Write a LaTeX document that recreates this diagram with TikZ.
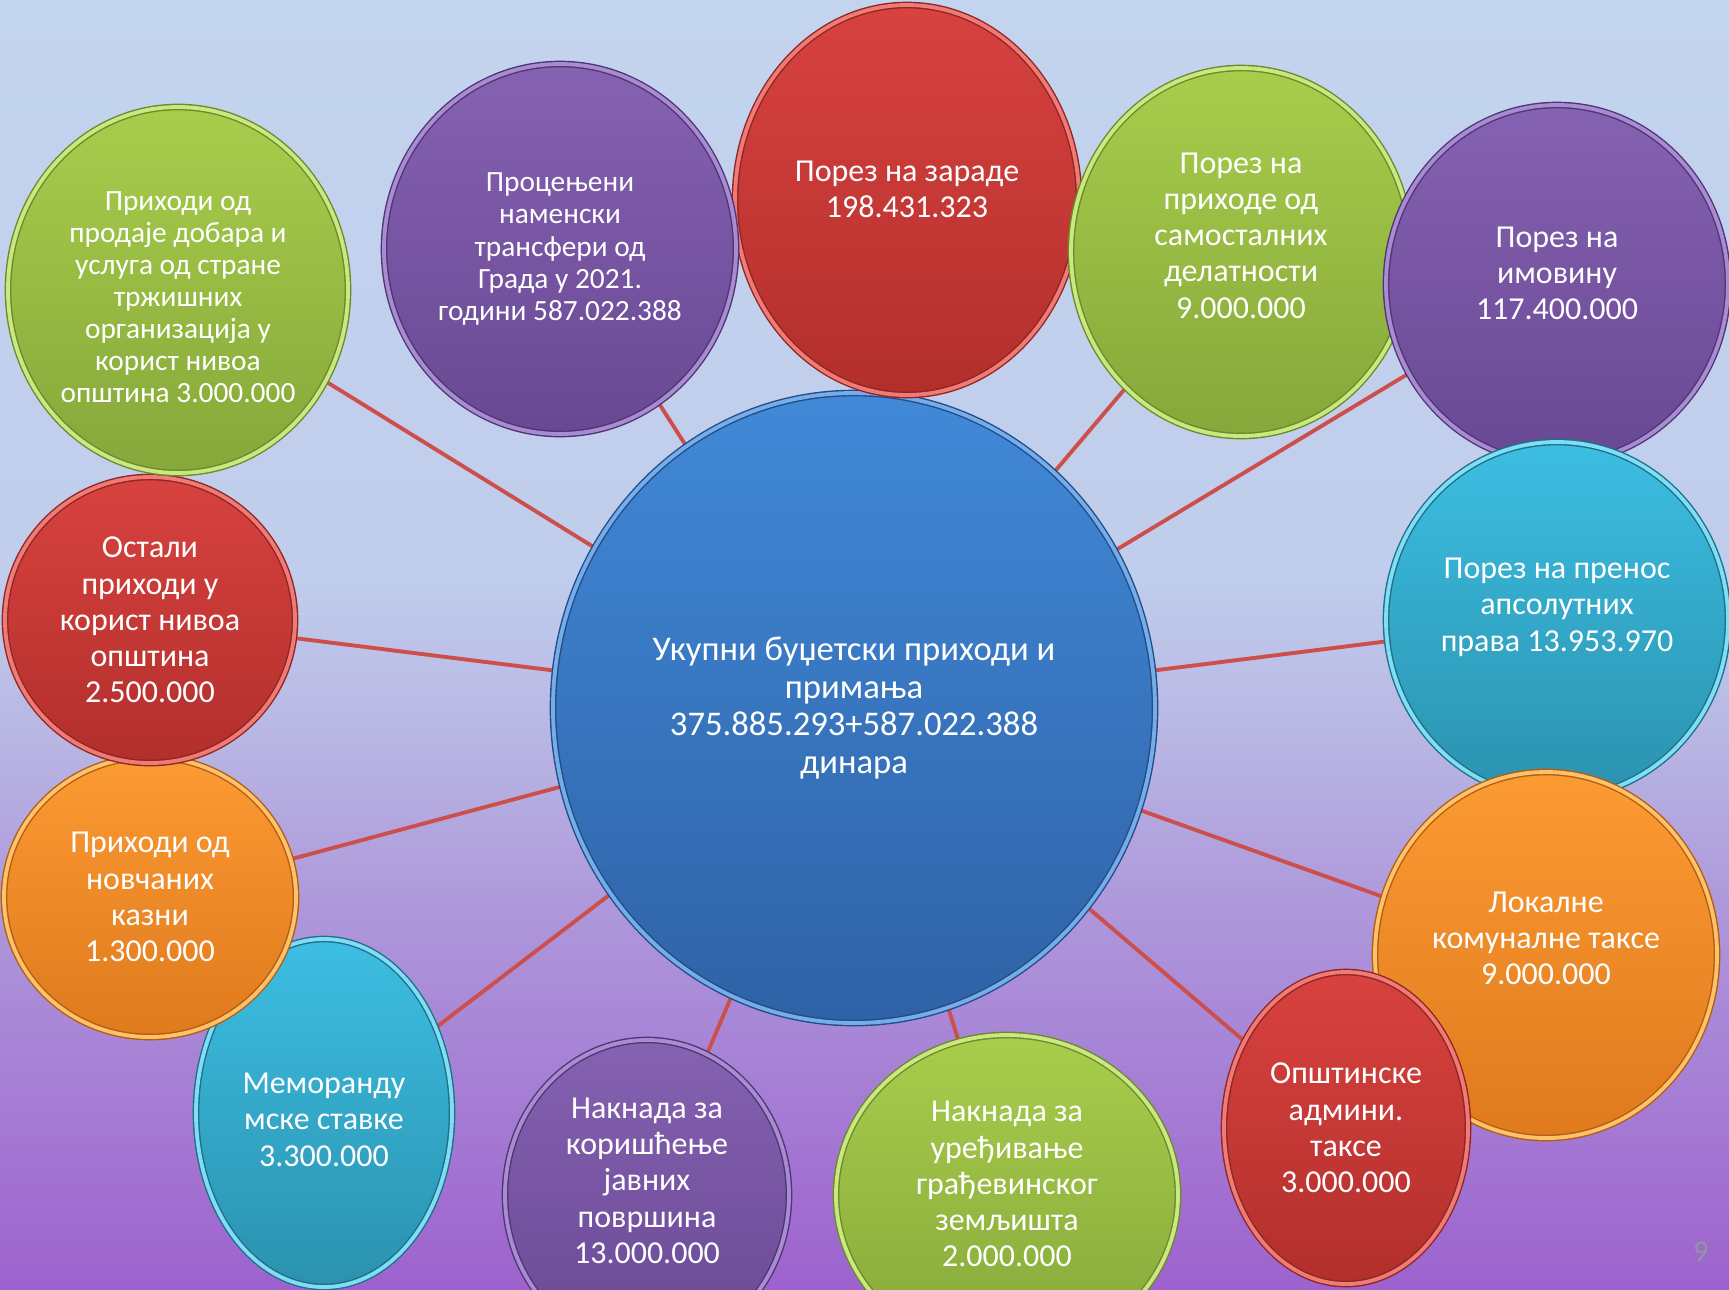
\documentclass[tikz,border=0pt]{standalone}
\usepackage{fontspec}
\setmainfont{Carlito}
\usetikzlibrary{shapes.geometric}
\pgfdeclarelayer{bg}
\pgfdeclarelayer{links}
\pgfsetlayers{bg,links,main}
\definecolor{bgtop}{HTML}{C3D4EE}
\definecolor{bgupper}{HTML}{C0CDEC}
\definecolor{bgmid}{HTML}{B8B6E3}
\definecolor{bglower}{HTML}{AE98DB}
\definecolor{bgbot}{HTML}{9D62CE}
\definecolor{linkred}{HTML}{CD4F4B}
\definecolor{pagegray}{HTML}{8E9A9A}
\pgfdeclareverticalshading{slide}{100bp}{color(0bp)=(bgbot); color(25bp)=(bgbot); color(39.9bp)=(bglower); color(46.3bp)=(bgmid); color(52.7bp)=(bgupper); color(75bp)=(bgtop); color(100bp)=(bgtop)}
\tikzstyle{bubble} = [ellipse, 
inner sep=0pt, 
text=white, 
align=center, 
line width=0.4pt, 
double distance=1.1pt, 
font=\fontsize{9.1}{10.3}\selectfont]
\tikzstyle{redb} = [bubble, top color={rgb,255:red,216;green,66;blue,63}, bottom color={rgb,255:red,178;green,47;blue,44}, draw={rgb,255:red,142;green,38;blue,36}, double={rgb,255:red,240;green,122;blue,118}]
\tikzstyle{greenb} = [bubble, top color={rgb,255:red,168;green,205;blue,76}, bottom color={rgb,255:red,134;green,167;blue,58}, draw={rgb,255:red,108;green,138;blue,42}, double={rgb,255:red,201;green,232;blue,130}]
\tikzstyle{purpleb} = [bubble, top color={rgb,255:red,134;green,98;blue,178}, bottom color={rgb,255:red,104;green,72;blue,147}, draw={rgb,255:red,79;green,54;blue,114}, double={rgb,255:red,169;green,139;blue,212}]
\tikzstyle{cyanb} = [bubble, top color={rgb,255:red,60;green,190;blue,226}, bottom color={rgb,255:red,43;green,146;blue,175}, draw={rgb,255:red,31;green,111;blue,134}, double={rgb,255:red,127;green,221;blue,245}]
\tikzstyle{orangeb} = [bubble, top color={rgb,255:red,252;green,154;blue,51}, bottom color={rgb,255:red,223;green,122;blue,29}, draw={rgb,255:red,176;green,94;blue,18}, double={rgb,255:red,255;green,194;blue,106}]
\tikzstyle{hubb} = [bubble, top color={rgb,255:red,65;green,137;blue,216}, bottom color={rgb,255:red,47;green,98;blue,166}, draw={rgb,255:red,35;green,76;blue,133}, double={rgb,255:red,117;green,173;blue,235}, font=\fontsize{9.85}{10.7}\selectfont]
\tikzstyle{link} = [draw=linkred, line width=1.1pt]

\begin{document}
\begin{tikzpicture}

\useasboundingbox (0,0) rectangle (17.29,-12.89);
\clip (0,0) rectangle (17.29,-12.89);
\begin{pgfonlayer}{bg}
\shade[shading=slide] (0,0) rectangle (17.29,-12.89);
\end{pgfonlayer}

\node (ukupno) [hubb, minimum width=6.02cm, minimum height=6.3cm] at (8.54,-7.08) {Укупни буџетски приходи и\\примања\\375.885.293+587.022.388\\динара};

\node (zarade) [redb, minimum width=3.44cm, minimum height=3.9cm, text depth=6.3pt] at (9.07,-2.0) {Порез на зараде\\198.431.323};
\node (samost) [greenb, minimum width=3.4cm, minimum height=3.68cm, text depth=9.4pt] at (12.41,-2.52) {Порез на\\приходе од\\самосталних\\делатности\\9.000.000};
\node (imovina) [purpleb, minimum width=3.42cm, minimum height=3.58cm, text depth=6.3pt] at (15.57,-2.84) {Порез на\\имовину\\117.400.000};
\node (prenos) [cyanb, minimum width=3.42cm, minimum height=3.56cm, text depth=8.8pt] at (15.57,-6.2) {Порез на пренос\\апсолутних\\права 13.953.970};
\node (komunalne) [orangeb, minimum width=3.42cm, minimum height=3.66cm, text depth=9.4pt] at (15.46,-9.55) {Локалне\\комуналне таксе\\9.000.000};
\node (admin) [redb, minimum width=2.44cm, minimum height=3.12cm] at (13.46,-11.28) {Општинске\\админи.\\таксе\\3.000.000};
\node (gradj) [greenb, minimum width=3.42cm, minimum height=3.2cm, text depth=6.3pt] at (10.07,-11.95) {Накнада за\\уређивање\\грађевинског\\земљишта\\2.000.000};
\node (javne) [purpleb, minimum width=2.84cm, minimum height=3.1cm, text depth=8.2pt] at (6.47,-11.95) {Накнада за\\коришћење\\јавних\\површина\\13.000.000};
\node (memo) [cyanb, minimum width=2.56cm, minimum height=3.48cm, text height=30.3pt] at (3.24,-11.13) {Меморанду\\мске ставке\\3.300.000};
\node (kazne) [orangeb, minimum width=2.92cm, minimum height=2.8cm] at (1.5,-8.97) {Приходи од\\новчаних\\казни\\1.300.000};
\node (ostali) [redb, minimum width=2.9cm, minimum height=2.86cm] at (1.5,-6.2) {Остали\\приходи у\\корист нивоа\\општина\\2.500.000};
\node (prodaja) [greenb, minimum width=3.4cm, minimum height=3.66cm, text height=63.8pt, font=\fontsize{8.35}{9.1}\selectfont] at (1.78,-2.9) {Приходи од\\продаје добара и\\услуга од стране\\тржишних\\организација у\\корист нивоа\\општина 3.000.000};
\node (transferi) [purpleb, minimum width=3.52cm, minimum height=3.7cm, font=\fontsize{8.35}{9.2}\selectfont] at (5.6,-2.49) {Процењени\\наменски\\трансфери од\\Града у 2021.\\години 587.022.388};

\begin{pgfonlayer}{links}
\foreach \b in {zarade, samost, imovina, prenos, komunalne, admin, gradj, javne, memo, kazne, ostali, prodaja, transferi}
  \draw[link] (ukupno.center) -- (\b.center);
\end{pgfonlayer}

\node (broj) [text=pagegray, font=\fontsize{8.5}{10}\selectfont] at (17.01,-12.52) {9};

\end{tikzpicture}
\end{document}
